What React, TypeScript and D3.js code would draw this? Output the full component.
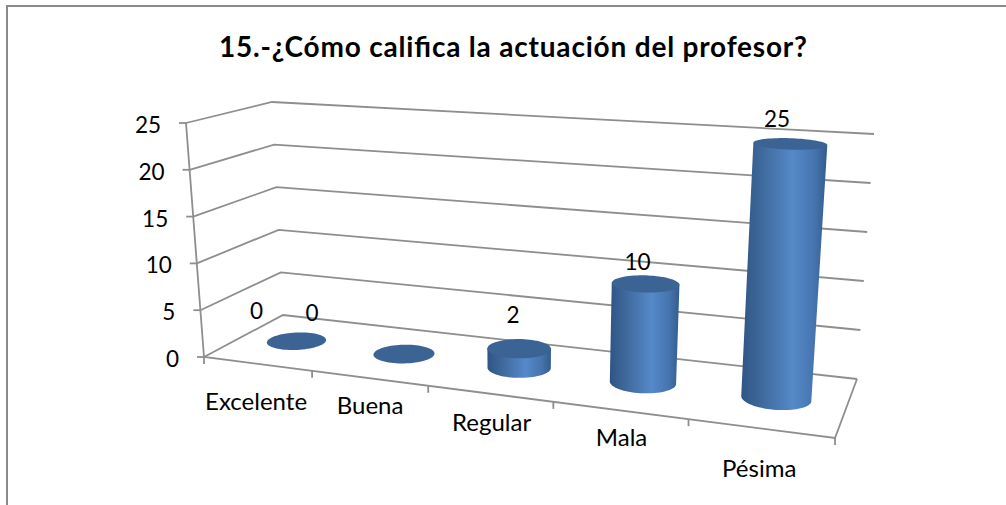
import React from 'react'
import * as d3 from 'd3'

const title = '15.-¿Cómo califica la actuación del profesor?'
const categories = ['Excelente', 'Buena', 'Regular', 'Mala', 'Pésima']
const values = [0, 0, 2, 10, 25]
const valueTicks = [0, 5, 10, 15, 20, 25]

// where office put the labels, relative to the column / the floor edge
const dataLabelOffsets = [
  [-40, -30],
  [-92, -41],
  [-6, -33],
  [-8, -22],
  [-13, -25],
]
const categoryLabelOffsets = [
  [-1, 38],
  [1, 28],
  [2, 29],
  [2, 28],
  [-1, 41],
]

type Pt = [number, number]

// unit square -> quad (front-left, front-right, back-right, back-left)
const homography = (q: Pt[]) => {
  const [[x0, y0], [x1, y1], [x2, y2], [x3, y3]] = q
  const dx1 = x1 - x2
  const dx2 = x3 - x2
  const sx = x0 - x1 + x2 - x3
  const dy1 = y1 - y2
  const dy2 = y3 - y2
  const sy = y0 - y1 + y2 - y3
  const den = dx1 * dy2 - dx2 * dy1
  const g = (sx * dy2 - dx2 * sy) / den
  const h = (dx1 * sy - sx * dy1) / den
  const a = x1 - x0 + g * x1
  const b = x3 - x0 + h * x3
  const d = y1 - y0 + g * y1
  const e = y3 - y0 + h * y3
  return (u: number, v: number): Pt => {
    const w = g * u + h * v + 1
    return [(a * u + b * v + x0) / w, (d * u + e * v + y0) / w]
  }
}

const floor = homography([
  [204, 357],
  [835, 438],
  [857, 379],
  [283, 315],
])
const ceiling = homography([
  [186, 123],
  [854, 164],
  [874, 134],
  [272, 102],
])

const yScale = d3.scaleLinear().domain([0, 25]).range([0, 1])
const xScale = d3
  .scaleBand<string>()
  .domain(categories)
  .range([0, 1])
  .paddingInner(0)

const project = (u: number, v: number, value: number): Pt => {
  const a = floor(u, v)
  const b = ceiling(u, v)
  const t = yScale(value)
  return [a[0] + (b[0] - a[0]) * t, a[1] + (b[1] - a[1]) * t]
}

const lineGen = d3.line<Pt>()
const closedGen = d3.line<Pt>().curve(d3.curveLinearClosed)

const radiusU = 0.05
const radiusV = 0.19
const angles = d3.range(0, 72).map((i) => (i / 72) * 2 * Math.PI)

const disc = (uc: number, value: number) =>
  angles.map((t) =>
    project(uc + radiusU * Math.cos(t), 0.5 + radiusV * Math.sin(t), value)
  )

// silhouette of the column: lower half of the base plus the side edges
const columnBody = (uc: number, value: number): Pt[] => {
  const top = disc(uc, value)
  const base = disc(uc, 0)
  const iLeftTop = d3.minIndex(top, (p) => p[0])
  const iRightTop = d3.maxIndex(top, (p) => p[0])
  const iLeft = d3.minIndex(base, (p) => p[0])
  const iRight = d3.maxIndex(base, (p) => p[0])
  const lower: Pt[] = []
  let i = iLeft
  const step = base[(iLeft + 1) % 72][1] > base[(iLeft + 71) % 72][1] ? 1 : -1
  while (i !== iRight) {
    lower.push(base[i])
    i = (i + step + 72) % 72
  }
  lower.push(base[iRight])
  return [top[iLeftTop], ...lower, top[iRightTop]]
}

const GRID = '#8e8e8e'
const FONT = 'Lato, "Open Sans", sans-serif'

export default function App() {
  return (
    <svg
      width={1006}
      height={505}
      style={{ position: 'absolute', left: 0, top: 0, background: '#fff' }}
    >
      <defs>
        <linearGradient id="cyl" x1="0" x2="1" y1="0" y2="0">
          <stop offset="0" stopColor="#2f5584" />
          <stop offset="0.2" stopColor="#3d6698" />
          <stop offset="0.6" stopColor="#5589c9" />
          <stop offset="0.85" stopColor="#4674ae" />
          <stop offset="1" stopColor="#335c8e" />
        </linearGradient>
      </defs>
      <rect x={7} y={6} width={1020} height={540} fill="#fff" stroke="#8a8a8a" strokeWidth={2} />
      <text
        x={513}
        y={57}
        textAnchor="middle"
        fontFamily={FONT}
        fontWeight={700}
        fontSize={28}
        textLength={588}
        fill="#000"
      >
        {title}
      </text>

      {/* gridlines on the side and back walls */}
      {valueTicks.map((t) => (
        <g key={t}>
          <path
            d={lineGen([project(0, 0, t), project(0, 1, t), project(1, 1, t)]) as string}
            fill="none"
            stroke={GRID}
            strokeWidth={1.8}
          />
          <line
            x1={project(0, 0, t)[0] - 7}
            y1={project(0, 0, t)[1]}
            x2={project(0, 0, t)[0]}
            y2={project(0, 0, t)[1]}
            stroke={GRID}
            strokeWidth={1.8}
          />
          <text
            x={project(0, 0, t)[0] - 25}
            y={project(0, 0, t)[1] + 10}
            textAnchor="end"
            fontFamily={FONT}
            fontSize={22.5}
            fill="#000"
          >
            {t}
          </text>
        </g>
      ))}

      {/* axis frame */}
      <path
        d={lineGen([project(0, 0, 25), project(0, 0, 0), project(1, 0, 0), project(1, 1, 0)]) as string}
        fill="none"
        stroke={GRID}
        strokeWidth={1.8}
      />
      {categories.map((c, i) => {
        const u = i / categories.length
        const p = project(u, 0, 0)
        return <line key={c} x1={p[0]} y1={p[1]} x2={p[0]} y2={p[1] + 7} stroke={GRID} strokeWidth={1.8} />
      })}
      <line
        x1={project(1, 0, 0)[0]}
        y1={project(1, 0, 0)[1]}
        x2={project(1, 0, 0)[0]}
        y2={project(1, 0, 0)[1] + 7}
        stroke={GRID}
        strokeWidth={1.8}
      />

      {/* columns */}
      {categories.map((c, i) => {
        const uc = (xScale(c) as number) + xScale.bandwidth() / 2
        const v = values[i]
        const top = project(uc, 0.5, v)
        return (
          <g key={c}>
            {v > 0 && <path d={closedGen(columnBody(uc, v)) as string} fill="url(#cyl)" />}
            <path d={closedGen(disc(uc, v)) as string} fill="#3b6393" />
            <text
              x={top[0] + dataLabelOffsets[i][0]}
              y={top[1] + dataLabelOffsets[i][1] + 8}
              textAnchor="middle"
              fontFamily={FONT}
              fontSize={22.5}
              fill="#000"
            >
              {v}
            </text>
          </g>
        )
      })}

      {/* category labels */}
      {categories.map((c, i) => {
        const uc = (xScale(c) as number) + xScale.bandwidth() / 2
        const p = project(uc, 0, 0)
        return (
          <text
            key={c}
            x={p[0] + categoryLabelOffsets[i][0]}
            y={p[1] + categoryLabelOffsets[i][1] + 8}
            textAnchor="middle"
            fontFamily={FONT}
            fontSize={24}
            fill="#000"
          >
            {c}
          </text>
        )
      })}
    </svg>
  )
}
